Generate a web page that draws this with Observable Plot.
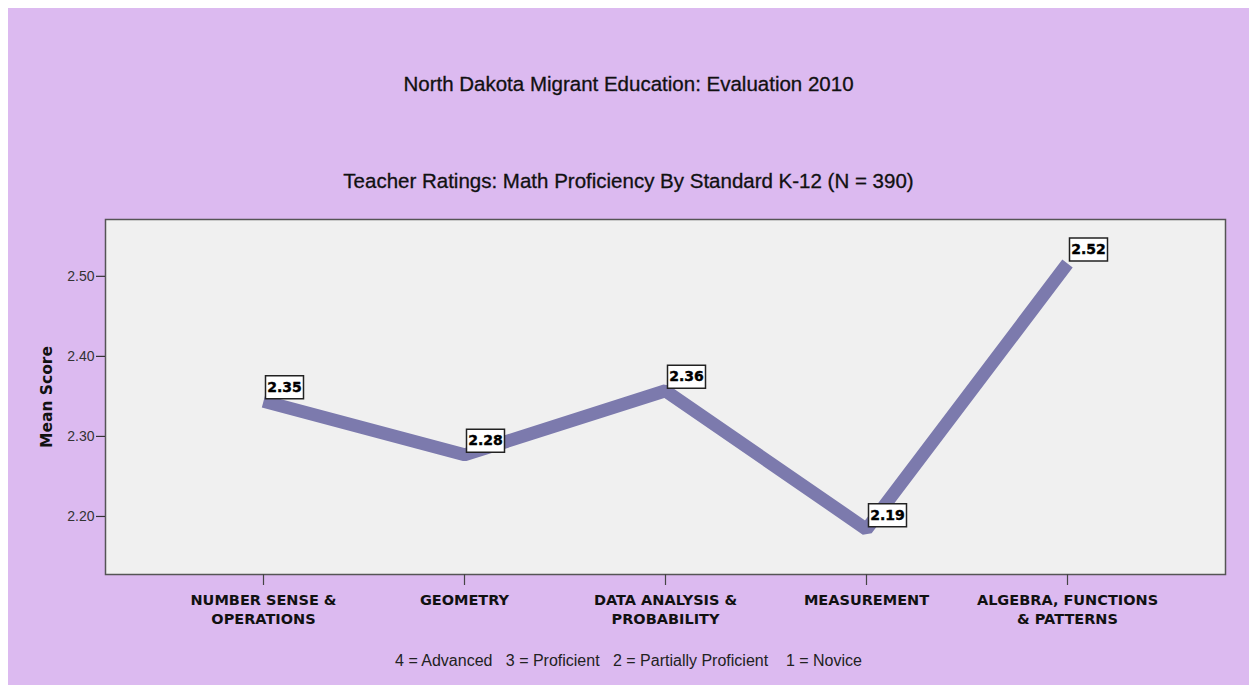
<!DOCTYPE html>
<html>
<head>
<meta charset="utf-8">
<script src="https://cdn.jsdelivr.net/npm/d3@7"></script>
<script src="https://cdn.jsdelivr.net/npm/@observablehq/plot@0.6"></script>
<style>
  html, body { margin: 0; padding: 0; background: #ffffff; }
  #page { position: absolute; left: 8px; top: 8px; width: 1241px; height: 677px; background: #dcbaf0; overflow: hidden; }
  .ttl { position: absolute; left: 0; width: 1241px; text-align: center; font-family: "Liberation Sans", Arial, sans-serif; font-size: 20.5px; color: #111; line-height: 24px; -webkit-text-stroke: 0.3px #111; }
  #chart { position: absolute; left: 0; top: 184px; }
</style>
</head>
<body>
<div id="page">
  <div class="ttl" style="top: 64px;">North Dakota Migrant Education: Evaluation 2010</div>
  <div class="ttl" style="top: 161px;">Teacher Ratings: Math Proficiency By Standard K-12 (N = 390)</div>
  <div id="chart"></div>
  <div class="ttl" style="top: 643px; font-size: 16px; line-height: 20px; color: #222; -webkit-text-stroke: 0; white-space: pre;">4 = Advanced   3 = Proficient   2 = Partially Proficient    1 = Novice</div>
</div>
<script>
const categories = [
  "NUMBER SENSE &\nOPERATIONS",
  "GEOMETRY",
  "DATA ANALYSIS &\nPROBABILITY",
  "MEASUREMENT",
  "ALGEBRA, FUNCTIONS\n& PATTERNS"
];
const means = [2.344, 2.277, 2.357, 2.184, 2.516];
const labels = ["2.35", "2.28", "2.36", "2.19", "2.52"];
const yTicks = [2.20, 2.30, 2.40, 2.50];

const data = categories.map((c, i) => ({ category: c, mean: means[i], label: labels[i] }));

const boxSymbol = {
  draw(context) {
    context.rect(-19, -11.5, 38, 23);
  }
};

const chart = Plot.plot({
  width: 1241,
  height: 440,
  marginLeft: 97,
  marginRight: 24,
  marginTop: 27,
  marginBottom: 58,
  style: { background: "transparent", fontFamily: "Liberation Sans, Arial, sans-serif", overflow: "visible" },
  x: { type: "point", domain: categories, padding: 0.774, label: null },
  y: { domain: [2.1275, 2.571], label: null },
  marks: [
    Plot.frame({ fill: "#f0f0f0", stroke: "#555555", strokeWidth: 1.5 }),
    Plot.axisY({
      ticks: yTicks, tickFormat: d3.format(".2f"), tickSize: 9, tickPadding: 2,
      fontSize: 14, color: "#333", stroke: "#333", strokeWidth: 1.2,
      label: null
    }),
    Plot.text(["Mean Score"], {
      frameAnchor: "left", textAnchor: "middle", dx: -58, rotate: -90, fontSize: 15.5, fontWeight: "bold", fill: "#111",
      fontFamily: "DejaVu Sans, sans-serif"
    }),
    Plot.axisX({
      tickSize: 11, tickPadding: 6, fontSize: 14.5, fontWeight: "bold",
      fontFamily: "DejaVu Sans, sans-serif", color: "#111", stroke: "#444", strokeWidth: 1.2,
      lineHeight: 1.31, label: null
    }),
    Plot.line(data, {
      x: "category", y: "mean", stroke: "#7c7aad", strokeWidth: 13,
      strokeLinecap: "butt", strokeLinejoin: "miter"
    }),
    Plot.dot(data, {
      x: "category", y: "mean", symbol: boxSymbol, r: 1,
      fill: "white", stroke: "#222", strokeWidth: 1.5, dx: 21, dy: -14
    }),
    Plot.text(data, {
      x: "category", y: "mean", text: "label", dx: 21, dy: -14,
      fontSize: 14, fontWeight: "bold", fill: "#000", stroke: "#000", strokeWidth: 0.4,
      fontFamily: "DejaVu Sans, sans-serif", letterSpacing: "-0.6px"
    })
  ]
});
document.getElementById("chart").appendChild(chart);
</script>
</body>
</html>
